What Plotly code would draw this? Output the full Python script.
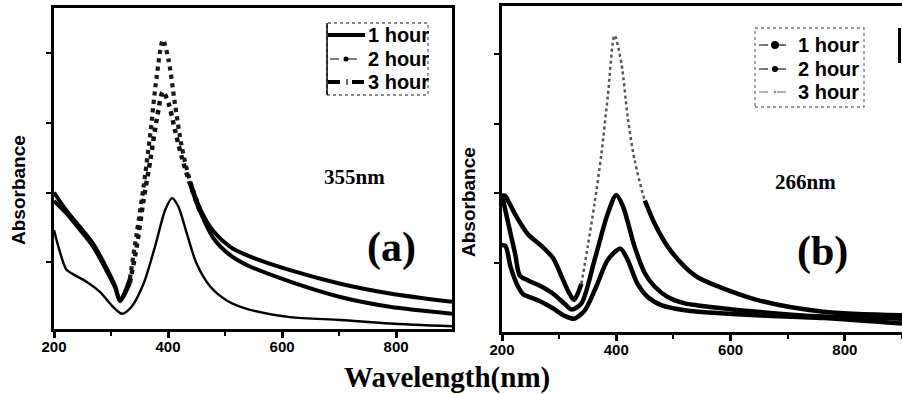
import plotly.graph_objects as go

W, H = 902, 394

# ---- panel (a): 355 nm ----
wl_a_1h = [200, 211, 222, 237, 257, 281, 301, 319, 336, 357, 377, 395, 407, 418, 433,
           450, 474, 503, 538, 614, 702, 789, 898]
abs_a_1h = [1.46, 1.13, 0.89, 0.81, 0.72, 0.57, 0.38, 0.26, 0.36, 0.69, 1.22, 1.75, 1.92, 1.80, 1.41,
            0.98, 0.65, 0.45, 0.33, 0.21, 0.17, 0.12, 0.08]

wl_a = [200, 222, 246, 269, 290, 307, 316, 333, 345, 357, 369, 380, 391, 401, 412,
        424, 439, 456, 480, 509, 538, 614, 702, 789, 898]
abs_a_2h = [2.00, 1.74, 1.50, 1.26, 0.95, 0.66, 0.45, 0.76, 1.41, 2.08, 2.85, 3.66, 4.19, 3.90, 3.28,
            2.66, 2.15, 1.77, 1.44, 1.22, 1.10, 0.885, 0.69, 0.55, 0.43]
abs_a_3h = [1.88, 1.70, 1.46, 1.22, 0.91, 0.64, 0.44, 0.70, 1.22, 1.89, 2.47, 3.04, 3.45, 3.28, 2.90,
            2.51, 2.11, 1.73, 1.34, 1.10, 0.96, 0.72, 0.50, 0.36, 0.26]

# ---- panel (b): 266 nm ----
wl_b_top = [200, 205, 213, 223, 245, 269, 289, 305, 316, 326, 339, 350, 362, 374, 385,
            397, 409, 420, 432, 450, 467, 490, 520, 543, 646, 762, 900]
abs_b_top = [1.97, 1.97, 1.86, 1.70, 1.42, 1.25, 1.08, 0.80, 0.60, 0.48, 0.71, 1.24, 1.86, 2.57, 3.38,
             4.26, 3.86, 3.09, 2.48, 1.90, 1.57, 1.24, 0.95, 0.80, 0.48, 0.31, 0.26]

wl_b_mid = [200, 211, 223, 231, 245, 269, 289, 310, 322, 339, 362, 385, 400, 412, 432,
            450, 467, 490, 520, 543, 646, 762, 900]
abs_b_mid = [1.98, 1.57, 1.14, 0.83, 0.76, 0.67, 0.57, 0.42, 0.34, 0.43, 1.05, 1.71, 1.98, 1.81, 1.24,
             0.86, 0.67, 0.52, 0.43, 0.40, 0.31, 0.24, 0.21]

wl_b_low = [200, 206, 215, 228, 237, 245, 269, 289, 310, 326, 345, 365, 385, 407, 420,
            437, 455, 480, 520, 543, 646, 762, 900]
abs_b_low = [1.26, 1.25, 0.95, 0.67, 0.56, 0.53, 0.45, 0.36, 0.25, 0.21, 0.33, 0.67, 1.05, 1.21, 1.05,
             0.71, 0.52, 0.40, 0.33, 0.31, 0.26, 0.22, 0.14]

legend_labels = ["1 hour", "2 hour", "3 hour"]
x_ticks = [200, 400, 600, 800]

fig = go.Figure()


def curve(x, y, xa, ya, width, color="black", dash="solid"):
    fig.add_trace(go.Scatter(
        x=x, y=y, xaxis=xa, yaxis=ya, mode="lines", showlegend=False,
        line=dict(color=color, width=width, dash=dash, shape="spline", smoothing=0.8),
        hoverinfo="skip"))


def split_curve(x, y, xa, ya, lo, hi, hi_solid, width, steep_width, steep_color):
    # dense-sampled spectra look dotted on the steep flanks of the band
    left = [i for i, v in enumerate(x) if v <= lo]
    mid = [i for i, v in enumerate(x) if lo <= v <= hi]
    right = [i for i, v in enumerate(x) if v >= hi_solid]
    curve([x[i] for i in mid], [y[i] for i in mid], xa, ya, steep_width, steep_color, "dot")
    for idx in (left, right):
        curve([x[i] for i in idx], [y[i] for i in idx], xa, ya, width)


# panel (a)
curve(wl_a_1h, abs_a_1h, "x", "y", 2.4)
split_curve(wl_a, abs_a_3h, "x", "y", 333, 456, 439, 4, 4.5, "#111111")
split_curve(wl_a, abs_a_2h, "x", "y", 333, 456, 439, 4, 4.2, "#1a1a1a")

# panel (b)
curve(wl_b_low, abs_b_low, "x2", "y2", 4.5)
curve(wl_b_mid, abs_b_mid, "x2", "y2", 4.5)
split_curve(wl_b_top, abs_b_top, "x2", "y2", 339, 467, 450, 4.5, 2.5, "#555555")

tick_font = dict(family="Liberation Sans", size=15, color="black", weight="bold")
xcommon = dict(
    tickmode="array", tickvals=x_ticks, ticktext=[str(t) for t in x_ticks],
    ticks="outside", ticklen=6, tickwidth=2.5, tickcolor="black",
    minor=dict(tickmode="linear", tick0=200, dtick=100, ticks="outside", ticklen=4,
               tickwidth=2, tickcolor="black"),
    showline=True, linewidth=3, linecolor="black", showgrid=False, zeroline=False,
    tickfont=tick_font, ticklabelstandoff=-4, automargin=False,
)
ycommon = dict(
    tickmode="linear", tick0=0, dtick=1, ticks="outside", ticklen=5, tickwidth=2,
    tickcolor="black", showticklabels=False, showline=True, linewidth=3,
    linecolor="black", showgrid=False, zeroline=False, automargin=False,
)


def px(v):
    return v / W


def py(v):
    return 1 - v / H


fig.update_layout(
    template="none",
    width=W, height=H, margin=dict(l=0, r=0, t=0, b=0, pad=0, autoexpand=False),
    paper_bgcolor="white", plot_bgcolor="white", showlegend=False,
    xaxis=dict(domain=[px(54), px(452)], range=[200, 898], anchor="y", mirror=True, **xcommon),
    yaxis=dict(domain=[py(329), py(8)], range=[0.04, 4.65], anchor="x", mirror=True, **ycommon),
    xaxis2=dict(domain=[px(502), 1.0], range=[200, 900], anchor="y2", mirror=True, **xcommon),
    yaxis2=dict(domain=[py(332), py(6)], range=[0.02, 4.68], anchor="x2", **ycommon),
)

shapes = []


def pline(x0, y0, x1, y1, color="black", width=1, dash="solid"):
    shapes.append(dict(type="line", xref="paper", yref="paper", x0=px(x0), y0=py(y0),
                       x1=px(x1), y1=py(y1), line=dict(color=color, width=width, dash=dash)))


def pdot(cx, cy, r, color="black"):
    shapes.append(dict(type="circle", xref="paper", yref="paper", x0=px(cx - r), y0=py(cy + r),
                       x1=px(cx + r), y1=py(cy - r), fillcolor=color, line=dict(width=0)))


def prect(x0, y0, x1, y1, color, dash):
    shapes.append(dict(type="rect", xref="paper", yref="paper", x0=px(x0), y0=py(y1),
                       x1=px(x1), y1=py(y0), line=dict(color=color, width=1.3, dash=dash)))


leg_font = dict(family="Liberation Sans", size=20, color="black", weight="bold")

# legend box, panel (a)
prect(327, 23, 428, 95, "#666666", "dot")
pline(327, 23, 327, 95, "black", 1.5)
rows_a = [35, 59, 82]
pline(328, rows_a[0], 365, rows_a[0], "black", 4)
pline(330, rows_a[1], 362, rows_a[1], "#555555", 1.3, "dash")
pdot(346, rows_a[1], 2.5)
pline(328, rows_a[2], 365, rows_a[2], "black", 4, "dash")
pline(344, rows_a[2], 350, rows_a[2], "white", 2)
pline(347, rows_a[2] - 3, 347, rows_a[2] + 3, "black", 1.2)
for lab, yy in zip(legend_labels, rows_a):
    fig.add_annotation(text=lab, x=px(366), y=py(yy), xref="paper", yref="paper",
                       xanchor="left", yanchor="middle", showarrow=False, font=leg_font)

# legend box, panel (b)
prect(755, 28, 864, 107, "#777777", "dot")
rows_b = [45, 69, 92]
pline(759, rows_b[0], 791, rows_b[0], "#444444", 1.3, "dash")
pdot(775, rows_b[0], 4)
pline(759, rows_b[1], 791, rows_b[1], "#444444", 1.3, "dash")
pdot(775, rows_b[1], 3)
pline(759, rows_b[2], 791, rows_b[2], "#999999", 1.3, "dash")
pdot(775, rows_b[2], 1.2, "#888888")
for lab, yy in zip(legend_labels, rows_b):
    fig.add_annotation(text=lab, x=px(796), y=py(yy), xref="paper", yref="paper",
                       xanchor="left", yanchor="middle", showarrow=False, font=leg_font)

# fragment of the neighbouring frame at the right edge
pline(899.5, 28, 899.5, 63, "black", 3)

fig.update_layout(shapes=shapes)

serif = "Liberation Serif"
sans = "Liberation Sans"
notes = [
    ("355nm", 354, 177, serif, 21, 0),
    ("(a)", 391, 247, serif, 42, 0),
    ("266nm", 805, 182, serif, 21, 0),
    ("(b)", 822, 251, serif, 42, 0),
    ("Wavelength(nm)", 447, 377, serif, 29, 0),
    ("Absorbance", 18, 190, sans, 19, -90),
    ("Absorbance", 468, 202, sans, 19, -90),
]
for text, x, y, fam, size, ang in notes:
    fig.add_annotation(text=text, x=px(x), y=py(y), xref="paper", yref="paper",
                       xanchor="center", yanchor="middle", showarrow=False, textangle=ang,
                       font=dict(family=fam, size=size, color="black", weight="bold"))

fig.write_html("out.html")
